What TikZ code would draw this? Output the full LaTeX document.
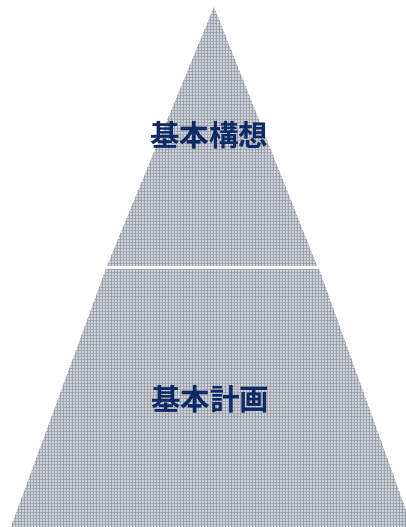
\documentclass[tikz,border=0pt]{standalone}
\usepackage{fontspec}
\newfontfamily\cjk{Noto Sans CJK JP}[BoldFont={Noto Sans CJK JP Bold}]
\usetikzlibrary{patterns.meta}
\definecolor{pyrfill}{RGB}{206,209,215}
\definecolor{pyrgrid}{RGB}{158,163,173}
\definecolor{navy}{RGB}{14,42,102}
\tikzset{
  layer/.style={fill=pyrfill},
  layergrid/.style={pattern={Lines[distance=3pt,angle=0,line width=0.8pt]},pattern color=pyrgrid},
  layergridv/.style={pattern={Lines[distance=3pt,angle=90,line width=0.8pt]},pattern color=pyrgrid},
  lbl/.style={font=\cjk\bfseries\fontsize{29.5}{32}\selectfont, text=navy, inner sep=0pt}
}
\begin{document}
\begin{tikzpicture}[x=1pt,y=1pt]
\useasboundingbox (0,0) rectangle (405,527);
% top triangle
\foreach \s in {layer,layergrid,layergridv}
  \path[\s] (214,520) -- (317,261) -- (107,261) -- cycle;
% bottom trapezoid
\foreach \s in {layer,layergrid,layergridv}
  \path[\s] (106,258) -- (319,258) -- (412,0) -- (11,0) -- cycle;
\node[lbl] (plan1) at (209,392) {基本構想};
\node[lbl] (plan2) at (210,128) {基本計画};
\end{tikzpicture}
\end{document}
